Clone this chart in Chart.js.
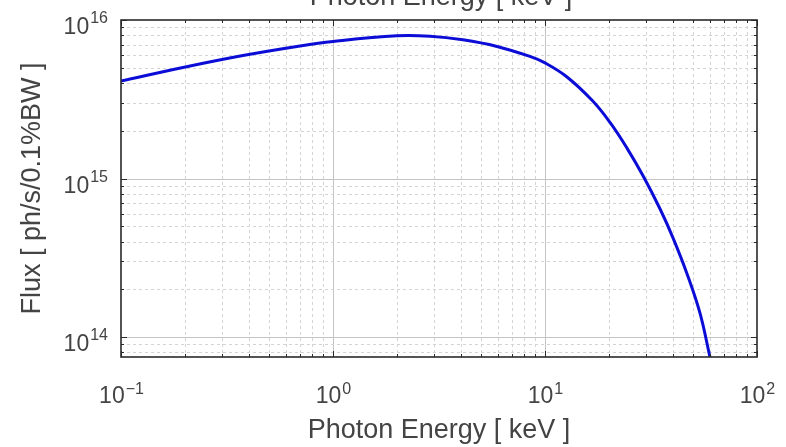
<!DOCTYPE html>
<html>
<head>
<meta charset="utf-8">
<script src="https://cdn.jsdelivr.net/npm/chart.js@4/dist/chart.umd.min.js"></script>
<style>
  html, body { margin: 0; padding: 0; background: #ffffff; }
  canvas { display: block; }
</style>
</head>
<body>
<canvas id="flux_chart" width="786" height="447"></canvas>
<script>
// photon energy in keV
const energy = [0.1, 0.196, 0.376, 0.676, 1.0, 2.0, 2.87, 4.1, 5.94, 8.49, 10, 12.7, 16.8, 20.3, 24.4, 29.0, 34.9, 40.2, 46.8, 53.8, 60.0];
// flux in ph/s/0.1%BW
const flux = [4.12e15, 5.02e15, 5.97e15, 6.81e15, 7.32e15, 7.95e15, 7.90e15, 7.50e15, 6.81e15, 5.89e15, 5.36e15, 4.37e15, 3.08e15, 2.25e15, 1.55e15, 1.04e15, 6.42e14, 4.21e14, 2.50e14, 1.42e14, 7.48e13];

// decade ticks and their labels
const xDecades = [0.1, 1, 10, 100];
const xExponents = ['\u22121', '0', '1', '2'];
const yDecades = [1e14, 1e15, 1e16];
const yExponents = ['14', '15', '16'];
const minorSteps = [2, 3, 4, 5, 6, 7, 8, 9];

const xMin = 0.1, xMax = 100;
const yMin = 7.48e13, yMax = 1e16;

const FONT = "'Liberation Sans', Arial, Helvetica, sans-serif";
const TEXT_COLOR = '#444444';

// all grid ticks (decades + minor 2..9) inside the range
function logTicks(lo, hi) {
  const out = [];
  for (let e = Math.floor(Math.log10(lo)) - 1; e <= Math.ceil(Math.log10(hi)); e++) {
    const d = Math.pow(10, e);
    [1].concat(minorSteps).forEach(s => {
      const v = s * d;
      if (v >= lo * 0.999 && v <= hi * 1.001) out.push({ value: v, major: s === 1 });
    });
  }
  return out;
}

// grid, box, inside tick marks and superscript labels (MATLAB look)
const matlabAxes = {
  id: 'matlabAxes',
  beforeDatasetsDraw(chart) {
    const { ctx, chartArea: a, scales } = chart;
    ctx.save();
    ctx.lineWidth = 1;
    scales.x.ticks.forEach(t => {
      const px = Math.round(scales.x.getPixelForValue(t.value)) + 0.5;
      if (px <= a.left + 1 || px >= a.right - 1) return;
      ctx.strokeStyle = t.major ? '#c4c4c4' : '#d4d4d4';
      ctx.setLineDash(t.major ? [] : [3, 3]);
      ctx.beginPath(); ctx.moveTo(px, a.top); ctx.lineTo(px, a.bottom); ctx.stroke();
    });
    scales.y.ticks.forEach(t => {
      const py = Math.round(scales.y.getPixelForValue(t.value)) + 0.5;
      if (py <= a.top + 1 || py >= a.bottom - 1) return;
      ctx.strokeStyle = t.major ? '#c4c4c4' : '#d4d4d4';
      ctx.setLineDash(t.major ? [] : [3, 3]);
      ctx.beginPath(); ctx.moveTo(a.left, py); ctx.lineTo(a.right, py); ctx.stroke();
    });
    ctx.restore();
  },
  afterDatasetsDraw(chart) {
    const { ctx, chartArea: a, scales } = chart;
    ctx.save();
    // inside tick marks on all four sides
    ctx.strokeStyle = '#2a2a2a';
    ctx.lineWidth = 1;
    scales.x.ticks.forEach(t => {
      const px = Math.round(scales.x.getPixelForValue(t.value)) + 0.5;
      const len = t.major ? 6 : 3;
      ctx.beginPath();
      ctx.moveTo(px, a.bottom); ctx.lineTo(px, a.bottom - len);
      ctx.moveTo(px, a.top); ctx.lineTo(px, a.top + len);
      ctx.stroke();
    });
    scales.y.ticks.forEach(t => {
      const py = Math.round(scales.y.getPixelForValue(t.value)) + 0.5;
      const len = t.major ? 6 : 3;
      ctx.beginPath();
      ctx.moveTo(a.left, py); ctx.lineTo(a.left + len, py);
      ctx.moveTo(a.right, py); ctx.lineTo(a.right - len, py);
      ctx.stroke();
    });
    // box
    ctx.lineWidth = 1.6;
    ctx.strokeRect(a.left, a.top, a.right - a.left, a.bottom - a.top);

    // tick labels 10^n
    ctx.fillStyle = TEXT_COLOR;
    ctx.textBaseline = 'alphabetic';
    const baseFont = '23px ' + FONT;
    const expFont = '16px ' + FONT;
    xDecades.forEach((v, i) => {
      const px = scales.x.getPixelForValue(v);
      ctx.font = baseFont; const wb = ctx.measureText('10').width;
      ctx.font = expFont; const we = ctx.measureText(xExponents[i]).width;
      const x0 = px - (wb + we) / 2;
      ctx.textAlign = 'left';
      ctx.font = baseFont; ctx.fillText('10', x0, 403);
      ctx.font = expFont; ctx.fillText(xExponents[i], x0 + wb + 1, 394);
    });
    yDecades.forEach((v, i) => {
      const py = scales.y.getPixelForValue(v);
      ctx.font = expFont; const we = ctx.measureText(yExponents[i]).width;
      ctx.font = baseFont; const wb = ctx.measureText('10').width;
      const xr = a.left - 13;
      ctx.textAlign = 'left';
      ctx.font = baseFont; ctx.fillText('10', xr - we - wb - 1, py + 14);
      ctx.font = expFont; ctx.fillText(yExponents[i], xr - we, py + 3);
    });

    // title, mostly cut off at the top edge
    ctx.font = '27px ' + FONT;
    ctx.textAlign = 'center';
    ctx.fillText('Photon Energy [ keV ]', (a.left + a.right) / 2 + 2, 5);
    ctx.restore();
  }
};

const ctx = document.getElementById('flux_chart').getContext('2d');

const cfg = {
  type: 'line',
  data: {
    datasets: [{
      label: 'Flux',
      data: energy.map((e, i) => ({ x: e, y: flux[i] })),
      borderColor: 'rgb(12,12,215)',
      borderWidth: 3,
      pointRadius: 0,
      tension: 0.4,
      fill: false
    }]
  },
  options: {
    responsive: false,
    animation: false,
    layout: { padding: { left: 0, right: 29, top: 20, bottom: 0 } },
    plugins: {
      legend: { display: false },
      tooltip: { enabled: false }
    },
    scales: {
      x: {
        type: 'logarithmic',
        min: xMin,
        max: xMax,
        ticks: { display: false },
        grid: { display: false },
        border: { display: false },
        title: {
          display: true,
          text: 'Photon Energy [ keV ]',
          color: TEXT_COLOR,
          font: { family: FONT, size: 27 },
          padding: { top: 0, bottom: 0 }
        },
        afterBuildTicks: axis => { axis.ticks = logTicks(xMin, xMax); },
        afterFit: axis => { axis.height = 90; }
      },
      y: {
        type: 'logarithmic',
        min: yMin,
        max: yMax,
        ticks: { display: false },
        grid: { display: false },
        border: { display: false },
        title: {
          display: true,
          text: 'Flux [ ph/s/0.1%BW ]',
          color: TEXT_COLOR,
          font: { family: FONT, size: 27 },
          padding: { top: 16, bottom: 0 }
        },
        afterBuildTicks: axis => { axis.ticks = logTicks(yMin, yMax); },
        afterFit: axis => { axis.width = 121; }
      }
    }
  },
  plugins: [matlabAxes]
};

const flux_chart = new Chart(ctx, cfg);
</script>
</body>
</html>
